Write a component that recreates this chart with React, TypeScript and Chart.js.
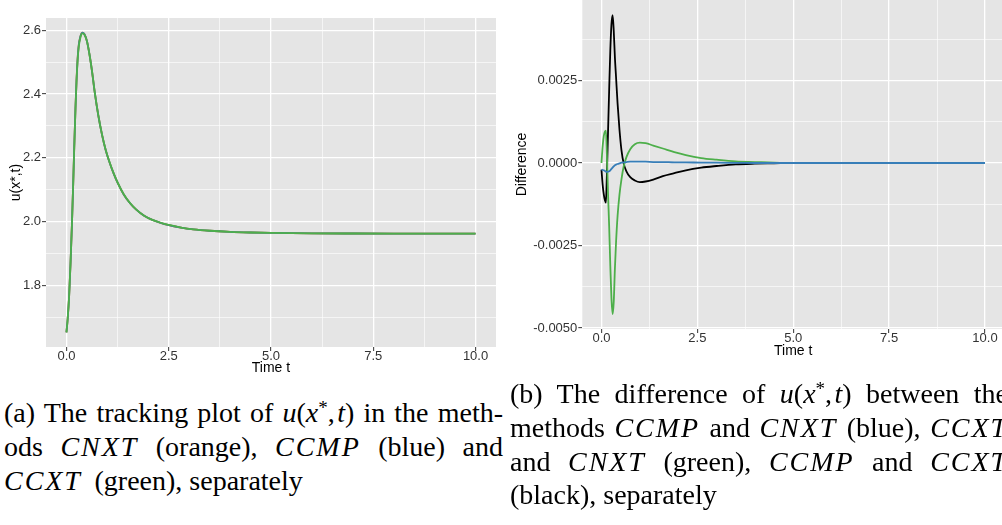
import React, { useEffect, useRef } from "react";
import { Chart, registerables } from "chart.js";

Chart.register(...registerables);

// ---------- Data: panel (a) tracking plot u(x*, t) ----------
const T_TRACK = [0, 0.03, 0.065, 0.1, 0.135, 0.165, 0.19, 0.22, 0.245, 0.27, 0.3, 0.34, 0.39, 0.44, 0.5, 0.56, 0.63, 0.69, 0.78, 0.87, 0.96, 1.05, 1.15, 1.25, 1.4, 1.55, 1.7, 1.9, 2.1, 2.3, 2.5, 2.8, 3.1, 3.5, 4.0, 4.5, 5.0, 6.0, 7.0, 8.0, 9.0, 10.0];
const U_CNXT = [1.652, 1.695, 1.765, 1.87, 1.995, 2.12, 2.232, 2.355, 2.44, 2.505, 2.553, 2.581, 2.593, 2.588, 2.567, 2.527, 2.467, 2.407, 2.332, 2.272, 2.224, 2.187, 2.152, 2.122, 2.085, 2.058, 2.038, 2.018, 2.005, 1.996, 1.989, 1.981, 1.9755, 1.971, 1.9675, 1.9655, 1.9642, 1.9628, 1.9623, 1.962, 1.962, 1.962];
const U_CCMP = [1.6518, 1.6948, 1.7648, 1.8698, 1.9947, 2.1197, 2.2318, 2.3548, 2.4398, 2.5048, 2.5529, 2.5809, 2.593, 2.588, 2.567, 2.527, 2.467, 2.407, 2.332, 2.272, 2.224, 2.187, 2.152, 2.122, 2.085, 2.058, 2.038, 2.018, 2.005, 1.996, 1.989, 1.981, 1.9755, 1.971, 1.9675, 1.9655, 1.9642, 1.9628, 1.9623, 1.962, 1.962, 1.962];
const U_CCXT = [1.652, 1.6955, 1.7658, 1.871, 1.9954, 2.1192, 2.2303, 2.352, 2.4362, 2.5007, 2.5485, 2.5773, 2.5905, 2.5867, 2.5664, 2.5268, 2.4672, 2.4073, 2.3325, 2.2726, 2.2246, 2.1876, 2.1526, 2.1225, 2.0854, 2.0584, 2.0383, 2.0183, 2.0052, 1.9961, 1.9891, 1.9811, 1.9755, 1.971, 1.9675, 1.9655, 1.9642, 1.9628, 1.9623, 1.962, 1.962, 1.962];

// ---------- Data: panel (b) differences ----------
const T_DIFF = [0, 0.03, 0.06, 0.09, 0.115, 0.14, 0.17, 0.2, 0.23, 0.26, 0.29, 0.32, 0.35, 0.38, 0.42, 0.47, 0.52, 0.58, 0.65, 0.75, 0.87, 1.0, 1.15, 1.35, 1.6, 1.9, 2.2, 2.6, 3.0, 3.5, 4.0, 4.5, 5.0, 6.0, 7.0, 8.0, 9.0, 10.0];
const D_CCMP_CNXT = [-0.0002, -0.00021, -0.00022, -0.00024, -0.00026, -0.00027, -0.00026, -0.00025, -0.00022, -0.00018, -0.00014, -0.0001, -0.00007, -0.00005, -0.00003, -0.00001, 0.00001, 0.00002, 0.00003, 0.00004, 0.00004, 0.00004, 0.00004, 0.00003, 0.00003, 0.00002, 0.00002, 0.00001, 0.00001, 0.000005, 0, 0, 0, 0, 0, 0, 0, 0];
const D_CCXT_CNXT = [0, 0.0005, 0.00082, 0.00095, 0.00098, 0.0003, -0.0009, -0.0019, -0.0031, -0.0041, -0.00458, -0.0042, -0.0032, -0.0024, -0.0016, -0.00095, -0.0005, -0.0001, 0.00018, 0.00042, 0.00057, 0.00062, 0.0006, 0.00053, 0.00044, 0.00033, 0.00024, 0.00015, 0.0001, 0.00005, 0.00003, 0.00001, 0, 0, 0, 0, 0, 0];
const D_CCMP_CCXT = [-0.0002, -0.00065, -0.00095, -0.00113, -0.0012, -0.0004, 0.0009, 0.0022, 0.0034, 0.0042, 0.00448, 0.004, 0.0032, 0.0026, 0.0018, 0.001, 0.0004, -0.00002, -0.00025, -0.00043, -0.00053, -0.00058, -0.00056, -0.0005, -0.0004, -0.00031, -0.00022, -0.00014, -0.00009, -0.00004, -0.00002, -0.00001, 0, 0, 0, 0, 0, 0];

// ---------- Axis ticks ----------
const X_MAJOR = [0, 2.5, 5, 7.5, 10];
const X_MINOR = [1.25, 3.75, 6.25, 8.75];
const YA_MAJOR = [1.8, 2.0, 2.2, 2.4, 2.6];
const YA_MINOR = [1.7, 1.9, 2.1, 2.3, 2.5];
const YB_MAJOR = [-0.005, -0.0025, 0, 0.0025];
const YB_MINOR = [-0.00375, -0.00125, 0.00125, 0.00375];

const COLORS = { orange: "#FF7F00", blue: "#377EB8", green: "#4DAF4A", black: "#000000" };
const PANEL_BG = "#E5E5E5";
const SANS = '"Liberation Sans", Arial, Helvetica, sans-serif';

const near = (arr: number[], v: number) => arr.some((a) => Math.abs(a - v) < 1e-9);

const bgPlugin = {
  id: "panelBg",
  beforeDraw(chart: any) {
    const { ctx, chartArea } = chart;
    if (!chartArea) return;
    ctx.save();
    ctx.fillStyle = PANEL_BG;
    ctx.fillRect(chartArea.left, chartArea.top, chartArea.right - chartArea.left, chartArea.bottom - chartArea.top);
    ctx.restore();
  },
};

function axis(opts: any) {
  const { min, max, major, minor, fmt, title, titlePad, fixSize, horizontal, labelPad } = opts;
  return {
    type: "linear",
    min,
    max,
    afterBuildTicks: (s: any) => {
      s.ticks = [...major, ...minor].sort((a, b) => a - b).map((v) => ({ value: v }));
    },
    afterFit: (s: any) => {
      if (horizontal) {
        s.height = fixSize;
        s.paddingLeft = 0;
        s.paddingRight = 0;
      } else {
        s.width = fixSize;
        s.paddingTop = 0;
        s.paddingBottom = 0;
      }
    },
    border: { display: false },
    grid: {
      drawTicks: true,
      tickLength: 4,
      color: "#FFFFFF",
      lineWidth: (c: any) => (c.tick && near(major, c.tick.value) ? 1.3 : 0.6),
      tickColor: (c: any) => (c.tick && near(major, c.tick.value) ? "#333333" : "rgba(0,0,0,0)"),
      tickWidth: 1,
    },
    ticks: {
      autoSkip: false,
      maxRotation: 0,
      minRotation: 0,
      padding: labelPad,
      color: "#333333",
      font: { family: SANS, size: 13, lineHeight: 1 },
      callback: (v: any) => (near(major, Number(v)) ? fmt(Number(v)) : ""),
    },
    title: {
      display: true,
      text: title,
      color: "#000000",
      font: { family: SANS, size: 14, lineHeight: 1.2 },
      padding: { top: titlePad, bottom: 0 },
    },
  };
}

function line(label: string, xs: number[], ys: number[], color: string, width: number) {
  return {
    label,
    data: xs.map((x, i) => ({ x, y: ys[i] })),
    borderColor: color,
    backgroundColor: color,
    borderWidth: width,
    pointRadius: 0,
    fill: false,
    cubicInterpolationMode: "monotone",
  };
}

function useChart(ref: any, config: any) {
  useEffect(() => {
    const chart = new Chart(ref.current, config);
    return () => chart.destroy();
  }, []);
}

function TrackingChart() {
  const ref = useRef<HTMLCanvasElement>(null);
  useChart(ref, {
    type: "line",
    data: {
      datasets: [
        line("CCXT", T_TRACK, U_CCXT, COLORS.green, 1.8),
        line("CCMP", T_TRACK, U_CCMP, COLORS.blue, 1.8),
        line("CNXT", T_TRACK, U_CNXT, COLORS.orange, 1.8),
      ],
    },
    options: {
      animation: false,
      responsive: false,
      maintainAspectRatio: false,
      layout: { padding: { left: 0, top: 18, right: 4, bottom: 3.6 } },
      plugins: { legend: { display: false }, tooltip: { enabled: false } },
      scales: {
        x: axis({ min: -0.5, max: 10.5, major: X_MAJOR, minor: X_MINOR, fmt: (v: number) => v.toFixed(1), title: "Time t", titlePad: 0, fixSize: 29.4, horizontal: true, labelPad: -1 }),
        y: axis({ min: 1.606, max: 2.639, major: YA_MAJOR, minor: YA_MINOR, fmt: (v: number) => v.toFixed(1), title: "u(x*,t)", titlePad: 8, fixSize: 46, horizontal: false, labelPad: 1 }),
      },
    },
    plugins: [bgPlugin],
  });
  return <canvas ref={ref} width={500} height={380} style={{ position: "absolute", left: 0, top: 0, width: 500, height: 380 }} />;
}

function DifferenceChart() {
  const ref = useRef<HTMLCanvasElement>(null);
  useChart(ref, {
    type: "line",
    data: {
      datasets: [
        line("CCMP - CNXT", T_DIFF, D_CCMP_CNXT, COLORS.blue, 1.8),
        line("CCXT - CNXT", T_DIFF, D_CCXT_CNXT, COLORS.green, 1.8),
        line("CCMP - CCXT", T_DIFF, D_CCMP_CCXT, COLORS.black, 1.8),
      ],
    },
    options: {
      animation: false,
      responsive: false,
      maintainAspectRatio: false,
      layout: { padding: { left: 0, top: 0, right: 10.8, bottom: 20.6 } },
      plugins: { legend: { display: false }, tooltip: { enabled: false } },
      scales: {
        x: axis({ min: -0.5, max: 10.5, major: X_MAJOR, minor: X_MINOR, fmt: (v: number) => v.toFixed(1), title: "Time t", titlePad: 0, fixSize: 30.4, horizontal: true, labelPad: -1 }),
        y: axis({ min: -0.00503, max: 0.00494, major: YB_MAJOR, minor: YB_MINOR, fmt: (v: number) => v.toFixed(4), title: "Difference", titlePad: 9, fixSize: 77.3, horizontal: false, labelPad: 1 }),
      },
    },
    plugins: [bgPlugin],
  });
  return <canvas ref={ref} width={510} height={380} style={{ position: "absolute", left: 505, top: 0, width: 510, height: 380 }} />;
}

const SERIF = '"Liberation Serif", "Times New Roman", Tinos, Times, serif';
const J: React.CSSProperties = { textAlign: "justify", textAlignLast: "justify" as any, display: "block" };
const L: React.CSSProperties = { textAlign: "left", display: "block" };
const M = ({ children }: any) => <i style={{ letterSpacing: "0.07em" }}>{children}</i>;
const U = () => (
  <span style={{ whiteSpace: "nowrap" }}>
    <i>u</i>(<i>x</i>
    <span style={{ position: "relative", top: "-0.42em", fontSize: "0.68em", lineHeight: 0 }}>*</span>,&#8202;<i>t</i>)
  </span>
);

export default function App() {
  const base: React.CSSProperties = { position: "absolute", fontFamily: SERIF, fontSize: 28, lineHeight: "33.8px", color: "#000" };
  return (
    <div style={{ position: "absolute", left: 0, top: 0, width: 1002, height: 525, overflow: "hidden", background: "#FFFFFF" }}>
      <TrackingChart />
      <DifferenceChart />
      <div style={{ ...base, left: 4, top: 396, width: 499 }}>
        <span style={J}>(a) The tracking plot of <U /> in the meth-</span>
        <span style={J}>ods <M>CNXT</M> (orange), <M>CCMP</M> (blue) and</span>
        <span style={L}><M>CCXT</M>&#8201; (green), separately</span>
      </div>
      <div style={{ ...base, left: 510, top: 377, width: 498 }}>
        <span style={J}>(b) The difference of <U /> between the</span>
        <span style={J}>methods <M>CCMP</M> and <M>CNXT</M> (blue), <M>CCXT</M></span>
        <span style={J}>and <M>CNXT</M> (green), <M>CCMP</M> and <M>CCXT</M></span>
        <span style={L}>(black), separately</span>
      </div>
    </div>
  );
}
